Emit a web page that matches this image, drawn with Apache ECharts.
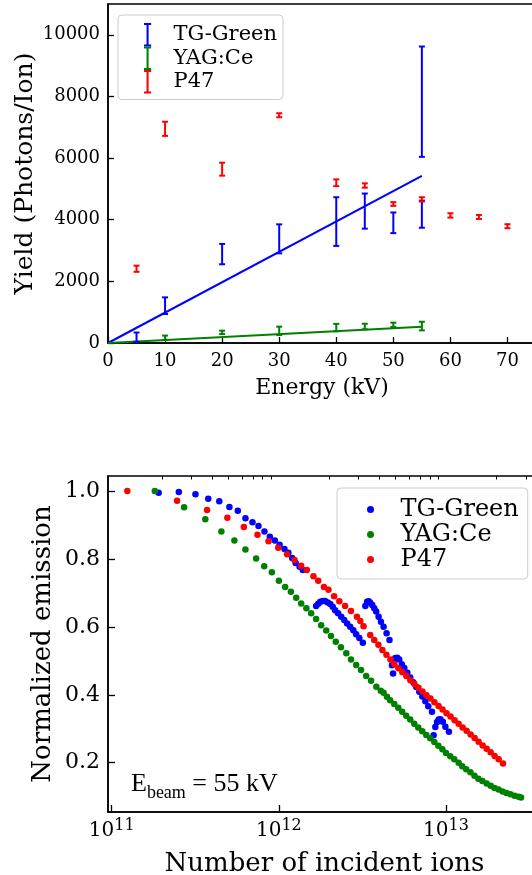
<!DOCTYPE html>
<html><head><meta charset="utf-8">
<script src="https://cdn.jsdelivr.net/npm/echarts@6/dist/echarts.min.js"></script>
<style>html,body{margin:0;padding:0;background:#fff}#c{width:532px;height:875px}</style>
</head><body><div id="c"></div>
<script>
// ---------- Top panel: yield vs energy ----------
const energyTicks = [0, 10, 20, 30, 40, 50, 60, 70];
const yieldTicks = [0, 2000, 4000, 6000, 8000, 10000];

const tgEnergy = [5, 10, 20, 30, 40, 45, 50, 55, 55];
const tgYield  = [190, 1210, 2885, 3380, 3940, 4280, 3900, 4180, 7830];
const tgErr    = [150, 270, 330, 470, 790, 570, 335, 440, 1790];

const yagEnergy = [10, 20, 30, 40, 45, 50, 55];
const yagYield  = [170, 345, 395, 500, 535, 590, 550];
const yagErr    = [70, 55, 135, 120, 90, 70, 140];

const p47Energy = [5, 10, 20, 30, 40, 45, 50, 55, 60, 65, 70];
const p47Yield  = [2410, 6950, 5640, 7390, 5200, 5110, 4510, 4660, 4140, 4090, 3790];
const p47Err    = [100, 230, 210, 65, 110, 70, 60, 70, 70, 65, 65];

const fitEnergy = [0, 55];
const tgFit  = [0, 5420];
const yagFit = [0, 530];

// ---------- Bottom panel: normalized emission vs incident ions ----------
const ionMajorTicks = [1e11, 1e12, 1e13];
const ionMinorTicks = [2e11,3e11,4e11,5e11,6e11,7e11,8e11,9e11,2e12,3e12,4e12,5e12,6e12,7e12,8e12,9e12,2e13,3e13];
const emissionTicks = [0.2, 0.4, 0.6, 0.8, 1.0];

const tgPoints = [
  [1.91e11,0.995],[2.52e11,0.997],[3.17e11,0.990],[3.78e11,0.977],[4.40e11,0.970],[5.06e11,0.953],[5.68e11,0.942],
  [6.31e11,0.920],[6.95e11,0.908],[7.55e11,0.897],[8.20e11,0.881],[8.83e11,0.865],[9.46e11,0.854],[1.01e12,0.842],
  [1.08e12,0.829],[1.14e12,0.818],[1.20e12,0.803],[1.26e12,0.788],[1.33e12,0.777],[1.39e12,0.767],
  [1.67e12,0.661],[1.72e12,0.668],[1.77e12,0.674],[1.83e12,0.676],[1.89e12,0.676],[1.96e12,0.672],[2.03e12,0.667],
  [2.10e12,0.659],[2.17e12,0.649],[2.26e12,0.640],[2.36e12,0.630],[2.46e12,0.620],[2.56e12,0.610],[2.67e12,0.600],
  [2.79e12,0.590],[2.90e12,0.578],[3.03e12,0.567],[3.18e12,0.553],
  [3.29e12,0.661],[3.37e12,0.674],[3.45e12,0.675],[3.52e12,0.671],[3.62e12,0.664],[3.72e12,0.655],[3.82e12,0.645],
  [3.95e12,0.630],[4.08e12,0.615],[4.23e12,0.600],[4.41e12,0.581],[4.59e12,0.561],
  [4.75e12,0.487],[4.82e12,0.463],[4.86e12,0.502],[4.97e12,0.508],[5.11e12,0.509],[5.25e12,0.504],[5.44e12,0.490],
  [5.63e12,0.479],[5.87e12,0.465],[6.11e12,0.451],[6.37e12,0.437],[6.64e12,0.423],[6.92e12,0.409],[7.21e12,0.395],
  [7.52e12,0.381],[7.83e12,0.366],[8.24e12,0.350],
  [8.43e12,0.281],[8.63e12,0.305],[8.84e12,0.320],[9.04e12,0.327],[9.25e12,0.328],[9.57e12,0.321],[9.91e12,0.306],[1.04e13,0.291]
];

const yagPoints = [
  [1.81e11,1.000],[2.71e11,0.952],[3.63e11,0.917],[4.53e11,0.881],[5.42e11,0.854],[6.31e11,0.828],[7.31e11,0.801],
  [8.17e11,0.778],[9.08e11,0.761],[1.00e12,0.736],[1.09e12,0.717],[1.18e12,0.703],[1.27e12,0.686],[1.36e12,0.669],
  [1.46e12,0.655],[1.56e12,0.640],[1.67e12,0.623],[1.79e12,0.605],[1.92e12,0.589],[2.05e12,0.573],[2.19e12,0.556],
  [2.35e12,0.540],[2.53e12,0.522],[2.70e12,0.504],[2.90e12,0.488],[3.10e12,0.473],[3.33e12,0.455],[3.56e12,0.441],
  [3.83e12,0.424],[4.07e12,0.412],[4.23e12,0.406],[4.43e12,0.394],[4.63e12,0.384],[4.90e12,0.373],[5.18e12,0.362],
  [5.47e12,0.350],[5.78e12,0.338],[6.11e12,0.327],[6.46e12,0.315],[6.82e12,0.304],[7.21e12,0.293],[7.62e12,0.282],
  [8.05e12,0.272],[8.51e12,0.261],[9.00e12,0.250],[9.51e12,0.240],[1.00e13,0.229],[1.06e13,0.219],[1.12e13,0.210],
  [1.19e13,0.200],[1.25e13,0.190],[1.32e13,0.181],[1.40e13,0.172],[1.48e13,0.162],[1.56e13,0.153],[1.65e13,0.146],
  [1.75e13,0.139],[1.85e13,0.132],[1.95e13,0.126],[2.06e13,0.121],[2.18e13,0.115],[2.30e13,0.111],[2.43e13,0.107],
  [2.57e13,0.103],[2.72e13,0.100],[2.81e13,0.098]
];

const p47Points = [
  [1.24e11,1.000],[2.46e11,0.971],[3.72e11,0.944],[4.92e11,0.921],[6.17e11,0.894],[7.45e11,0.871],[8.67e11,0.852],
  [9.91e11,0.833],[1.12e12,0.814],[1.24e12,0.797],[1.36e12,0.780],[1.47e12,0.767],[1.61e12,0.749],[1.72e12,0.736],
  [1.86e12,0.717],[1.98e12,0.709],[2.14e12,0.690],[2.30e12,0.675],[2.49e12,0.661],[2.70e12,0.647],[2.93e12,0.630],
  [3.07e12,0.617],[3.21e12,0.602],
  [3.52e12,0.576],[3.72e12,0.561],[3.94e12,0.547],[4.16e12,0.532],[4.40e12,0.518],[4.65e12,0.504],[4.91e12,0.490],
  [5.19e12,0.478],[5.48e12,0.466],[5.79e12,0.455],[6.12e12,0.443],[6.47e12,0.432],[6.84e12,0.421],[7.23e12,0.410],
  [7.64e12,0.399],[8.07e12,0.389],[8.53e12,0.378],[9.02e12,0.367],[9.53e12,0.357],[1.007e13,0.346],[1.064e13,0.336],
  [1.125e13,0.325],[1.189e13,0.315],[1.256e13,0.304],[1.327e13,0.294],[1.403e13,0.283],[1.483e13,0.273],[1.567e13,0.262],
  [1.656e13,0.251],[1.750e13,0.241],[1.849e13,0.231],[1.954e13,0.220],[2.065e13,0.210],[2.193e13,0.198]
];

// ---------- build ----------
const BLUE = '#0000ff', GREEN = '#008000', RED = '#ff0000';
const SERIF = 'DejaVu Serif';

function errData(xs, ys, es) {
  return xs.map((x, i) => [x, ys[i] - es[i], ys[i] + es[i]]);
}
function renderErr(params, api) {
  const x = api.value(0);
  const lo = api.coord([x, api.value(1)]);
  const hi = api.coord([x, api.value(2)]);
  const hw = 3;
  const c = api.visual('color');
  const st = { stroke: c, lineWidth: 2 };
  return {
    type: 'group',
    children: [
      { type: 'line', shape: { x1: lo[0], y1: lo[1], x2: hi[0], y2: hi[1] }, style: st },
      { type: 'line', shape: { x1: lo[0] - hw, y1: lo[1], x2: lo[0] + hw, y2: lo[1] }, style: st },
      { type: 'line', shape: { x1: hi[0] - hw, y1: hi[1], x2: hi[0] + hw, y2: hi[1] }, style: st }
    ]
  };
}
function errSeries(name, color, xs, ys, es) {
  return {
    name: name, type: 'custom', xAxisIndex: 0, yAxisIndex: 0,
    itemStyle: { color: color },
    encode: { x: 0, y: [1, 2] },
    renderItem: renderErr,
    data: errData(xs, ys, es),
    z: 3
  };
}
function fitSeries(name, color, ys) {
  return {
    name: name, type: 'line', xAxisIndex: 0, yAxisIndex: 0,
    data: fitEnergy.map((x, i) => [x, ys[i]]),
    showSymbol: false, symbol: 'none',
    lineStyle: { color: color, width: 2 }, itemStyle: { color: color },
    z: 2
  };
}
function dotSeries(name, color, pts) {
  return {
    name: name, type: 'scatter', xAxisIndex: 1, yAxisIndex: 1,
    data: pts, symbol: 'circle', symbolSize: 6.5,
    itemStyle: { color: color, opacity: 1 }, z: 3
  };
}

const axisLineStyle = { color: '#000', width: 1.5 };
const tickStyle = { color: '#000', width: 1.3 };
const errIcon = 'path://M0,0H7V2H4.5V21H7V23H0V21H2.5V2H0Z';

const option = {
  animation: false,
  backgroundColor: '#ffffff',
  textStyle: { fontFamily: SERIF, color: '#000' },
  grid: [
    { left: 108, top: 4, right: -4, bottom: 532, show: true, borderColor: '#000', borderWidth: 1.5,
      backgroundColor: 'transparent', containLabel: false, outerBoundsMode: 'none' },
    { left: 108, top: 476, right: -9, bottom: 63, show: true, borderColor: '#000', borderWidth: 1.5,
      backgroundColor: 'transparent', containLabel: false, outerBoundsMode: 'none' }
  ],
  xAxis: [
    {
      gridIndex: 0, type: 'value', min: 0, max: 75,
      axisLine: { onZero: false, lineStyle: axisLineStyle },
      axisTick: { inside: true, length: 6, customValues: energyTicks, lineStyle: tickStyle },
      axisLabel: { customValues: energyTicks, fontSize: 18, color: '#000', fontFamily: SERIF, margin: 9,
        formatter: function (v) { return String(v); } },
      splitLine: { show: false },
      name: 'Energy (kV)', nameLocation: 'middle', nameGap: 34, nameMoveOverlap: false,
      nameTextStyle: { fontSize: 22, color: '#000', fontFamily: SERIF }
    },
    {
      gridIndex: 1, type: 'log', logBase: 10, min: 9.5e10, max: 3.7e13,
      axisLine: { onZero: false, lineStyle: axisLineStyle },
      axisTick: { inside: true, length: 7, customValues: ionMajorTicks, lineStyle: tickStyle },
      axisLabel: {
        customValues: ionMajorTicks, margin: 6,
        formatter: function (v) { return '{b|10}{s|' + Math.round(Math.log10(v)) + '}'; },
        rich: {
          b: { fontSize: 20, fontFamily: SERIF, color: '#000', verticalAlign: 'bottom' },
          s: { fontSize: 16, fontFamily: SERIF, color: '#000', verticalAlign: 'bottom', padding: [0, 0, 7, 0] }
        }
      },
      splitLine: { show: false }, minorTick: { show: false },
      name: 'Number of incident ions', nameLocation: 'middle', nameGap: 39, nameMoveOverlap: false,
      nameTextStyle: { fontSize: 26, color: '#000', fontFamily: SERIF }
    },
    {
      gridIndex: 1, type: 'log', logBase: 10, min: 9.5e10, max: 3.7e13,
      axisLine: { show: false },
      axisTick: { inside: true, length: 3.5, customValues: ionMinorTicks, lineStyle: { color: '#000', width: 1 } },
      axisLabel: { show: false },
      splitLine: { show: false }
    }
  ],
  yAxis: [
    {
      gridIndex: 0, type: 'value', min: 0, max: 11000,
      axisLine: { onZero: false, lineStyle: axisLineStyle },
      axisTick: { inside: true, length: 6, customValues: yieldTicks, lineStyle: tickStyle },
      axisLabel: { customValues: yieldTicks, fontSize: 18, color: '#000', fontFamily: SERIF, margin: 8,
        formatter: function (v) { return String(v); } },
      splitLine: { show: false },
      name: 'Yield (Photons/Ion)', nameLocation: 'middle', nameGap: 70, nameMoveOverlap: false,
      nameTextStyle: { fontSize: 25, color: '#000', fontFamily: SERIF }
    },
    {
      gridIndex: 1, type: 'value', min: 0.055, max: 1.044,
      axisLine: { onZero: false, lineStyle: axisLineStyle },
      axisTick: { inside: true, length: 7, customValues: emissionTicks, lineStyle: tickStyle },
      axisLabel: { customValues: emissionTicks, fontSize: 22, color: '#000', fontFamily: SERIF, margin: 8,
        formatter: function (v) { return v.toFixed(1); } },
      splitLine: { show: false },
      name: 'Normalized emission', nameLocation: 'middle', nameGap: 52, nameMoveOverlap: false,
      nameTextStyle: { fontSize: 26, color: '#000', fontFamily: SERIF }
    }
  ],
  legend: [
    {
      left: 118, top: 15, orient: 'vertical', selectedMode: false,
      padding: [8, 6, 6, 26], itemWidth: 42, itemHeight: 23.5, itemGap: 0,
      backgroundColor: 'rgba(255,255,255,0.8)', borderColor: '#cccccc', borderWidth: 1, borderRadius: 4,
      textStyle: { fontSize: 21, color: '#000', fontFamily: SERIF },
      data: [
        { name: 'TG-Green', icon: errIcon, itemStyle: { color: BLUE } },
        { name: 'YAG:Ce', icon: errIcon, itemStyle: { color: GREEN } },
        { name: 'P47', icon: errIcon, itemStyle: { color: RED } }
      ]
    },
    {
      left: 337, top: 488, orient: 'vertical', selectedMode: false,
      padding: [9, 9, 7, 30], itemWidth: 50, itemHeight: 7, itemGap: 0,
      backgroundColor: 'rgba(255,255,255,0.8)', borderColor: '#cccccc', borderWidth: 1, borderRadius: 4,
      textStyle: { fontSize: 24, lineHeight: 25, color: '#000', fontFamily: SERIF },
      data: [
        { name: 'TG-Green', icon: 'circle', itemStyle: { color: BLUE } },
        { name: 'YAG:Ce', icon: 'circle', itemStyle: { color: GREEN } },
        { name: 'P47', icon: 'circle', itemStyle: { color: RED } }
      ]
    }
  ],
  graphic: [
    {
      type: 'text', x: 131, y: 771, z: 10,
      style: {
        text: '{e|E}{s|beam}{e| = 55 kV}',
        fill: '#000',
        rich: {
          e: { fontSize: 26, fontFamily: 'Liberation Serif', fill: '#000', verticalAlign: 'bottom', padding: [0, 0, 5, 0] },
          s: { fontSize: 18, fontFamily: 'Liberation Serif', fill: '#000', verticalAlign: 'bottom' }
        }
      }
    }
  ],
  series: [
    errSeries('TG-Green', BLUE, tgEnergy, tgYield, tgErr),
    errSeries('YAG:Ce', GREEN, yagEnergy, yagYield, yagErr),
    errSeries('P47', RED, p47Energy, p47Yield, p47Err),
    fitSeries('TG-Green fit', BLUE, tgFit),
    fitSeries('YAG:Ce fit', GREEN, yagFit),
    dotSeries('TG-Green', BLUE, tgPoints),
    dotSeries('YAG:Ce', GREEN, yagPoints),
    dotSeries('P47', RED, p47Points)
  ]
};

const chart = echarts.init(document.getElementById('c'), null, { renderer: 'canvas' });
chart.setOption(option);
</script></body></html>
